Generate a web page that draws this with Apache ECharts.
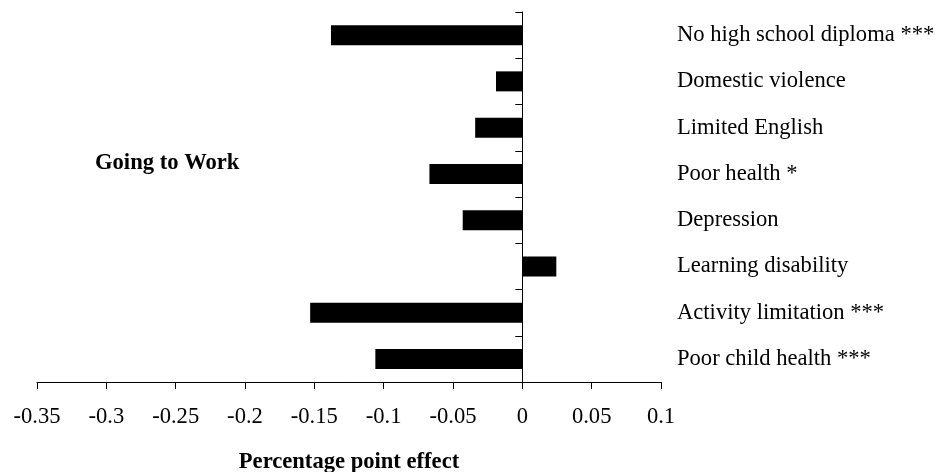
<!DOCTYPE html>
<html>
<head>
<meta charset="utf-8">
<script src="https://cdn.jsdelivr.net/npm/echarts@6/dist/echarts.min.js"></script>
<style>
  html, body { margin: 0; padding: 0; background: #fff; }
  #chart { width: 939px; height: 472px; }
</style>
</head>
<body>
<div id="chart"></div>
<script>
// Barriers and their estimated effect on going to work (percentage points)
const categories = [
  'No high school diploma ***',
  'Domestic violence',
  'Limited English',
  'Poor health *',
  'Depression',
  'Learning disability',
  'Activity limitation ***',
  'Poor child health ***'
];
const effects = [-0.138, -0.019, -0.034, -0.067, -0.043, 0.0245, -0.153, -0.106];

const panelTitle = 'Going to Work';
const xAxisTitle = 'Percentage point effect';

const FONT = '"Liberation Serif", "Times New Roman", serif';
const SIZE = 22.6;

const chart = echarts.init(document.getElementById('chart'), null, { renderer: 'canvas' });

chart.setOption({
  animation: false,
  backgroundColor: '#ffffff',
  title: {
    text: panelTitle,
    left: 95,
    top: 152,
    padding: 0,
    textStyle: { fontFamily: FONT, fontSize: SIZE, fontWeight: 'bold', color: '#000' }
  },
  grid: {
    left: 37, right: 278, top: 12, bottom: 90,
    containLabel: false,
    outerBoundsMode: 'none'
  },
  xAxis: {
    type: 'value',
    min: -0.35,
    max: 0.1,
    interval: 0.05,
    name: xAxisTitle,
    nameLocation: 'middle',
    nameGap: 69,
    nameTextStyle: { fontFamily: FONT, fontSize: SIZE, fontWeight: 'bold', color: '#000' },
    axisLine: { show: true, lineStyle: { color: '#000', width: 1 } },
    axisTick: { show: true, length: 7, lineStyle: { color: '#000' } },
    splitLine: { show: false },
    axisLabel: {
      margin: 24,
      fontFamily: FONT,
      fontSize: SIZE,
      color: '#000',
      formatter: v => String(parseFloat(v.toFixed(2)))
    }
  },
  yAxis: [
    {
      type: 'category',
      data: categories,
      inverse: true,
      axisLine: { show: true, onZero: true, lineStyle: { color: '#000', width: 1 } },
      axisTick: { show: true, length: 7, lineStyle: { color: '#000' } },
      axisLabel: { show: false },
      splitLine: { show: false }
    },
    {
      type: 'category',
      data: categories,
      inverse: true,
      position: 'right',
      axisLine: { show: false, onZero: false },
      axisTick: { show: false },
      splitLine: { show: false },
      axisLabel: {
        margin: 16,
        align: 'left',
        fontFamily: FONT,
        fontSize: SIZE,
        color: '#000'
      }
    }
  ],
  series: [{
    type: 'bar',
    data: effects,
    yAxisIndex: 0,
    barWidth: 20,
    itemStyle: { color: '#000' }
  }]
});
</script>
</body>
</html>
